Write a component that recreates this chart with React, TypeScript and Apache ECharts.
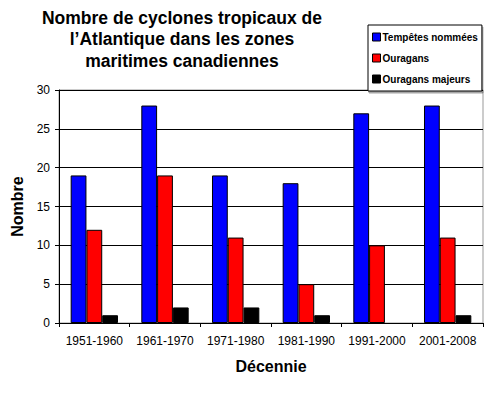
import React, { useEffect, useRef } from "react";
import * as echarts from "echarts";

const categories = ["1951-1960", "1961-1970", "1971-1980", "1981-1990", "1991-2000", "2001-2008"];
const tempetes = [19, 28, 19, 18, 27, 28];
const ouragans = [12, 19, 11, 5, 10, 11];
const majeurs = [1, 2, 2, 1, 0, 1];
const seriesNames = ["Tempêtes nommées", "Ouragans", "Ouragans majeurs"];
const titleLines = ["Nombre de cyclones tropicaux de", "l\u2019Atlantique dans les zones", "maritimes canadiennes"];

export default function App() {
  const ref = useRef<HTMLDivElement>(null);
  useEffect(() => {
    if (!ref.current) return;
    const chart = echarts.init(ref.current, null, { renderer: "svg" });
    const font = "Arial, 'Liberation Sans', sans-serif";
    const barStyle = (color: string) => ({ color, borderColor: "#000", borderWidth: 1, borderRadius: 0 });
    const toData = (arr: number[]) =>
      arr.map((v) => (v === 0 ? { value: v, itemStyle: { borderWidth: 0 } } : v));
    chart.setOption({
      animation: false,
      backgroundColor: "#fff",
      textStyle: { fontFamily: font },
      graphic: [
        {
          type: "text",
          x: 182,
          y: 7,
          style: {
            text: titleLines.join("\n"),
            font: `bold 17.5px ${font}`,
            fill: "#000",
            align: "center",
            lineHeight: 21.5,
          },
        },
      ],
      legend: {
        orient: "vertical",
        left: 368,
        top: 25,
        padding: [7, 4, 7, 4],
        itemWidth: 8,
        itemHeight: 8,
        itemGap: 11,
        icon: "rect",
        borderColor: "#000",
        borderWidth: 1,
        backgroundColor: "#fff",
        shadowColor: "rgba(0,0,0,0.35)",
        shadowOffsetX: 1,
        shadowOffsetY: 2,
        textStyle: { fontFamily: font, fontWeight: "bold", fontSize: 10, color: "#000", padding: [0, 0, 0, -3] },
        data: seriesNames.map((n) => ({ name: n, itemStyle: { borderColor: "#000", borderWidth: 1 } })),
      },
      grid: {
        left: 59,
        right: 14,
        top: 90,
        bottom: 70,
        show: true,
        borderColor: "#999",
        borderWidth: 1,
      },
      xAxis: {
        type: "category",
        data: categories,
        name: "Décennie",
        nameLocation: "middle",
        nameGap: 35,
        nameTextStyle: { fontFamily: font, fontWeight: "bold", fontSize: 16, color: "#000" },
        axisLine: { lineStyle: { color: "#000", width: 1 } },
        axisTick: { show: true, length: 4, lineStyle: { color: "#000" } },
        axisLabel: { fontFamily: font, fontSize: 12, color: "#000", margin: 12, interval: 0 },
      },
      yAxis: {
        type: "value",
        min: 0,
        max: 30,
        interval: 5,
        name: "Nombre",
        nameLocation: "middle",
        nameGap: 31,
        nameTextStyle: { fontFamily: font, fontWeight: "bold", fontSize: 16, color: "#000" },
        axisLine: { show: true, lineStyle: { color: "#000", width: 1 } },
        axisTick: { show: true, length: 4, lineStyle: { color: "#000" } },
        axisLabel: { fontFamily: font, fontSize: 12, color: "#000", margin: 9 },
        splitLine: { show: true, lineStyle: { color: "#000", width: 1 } },
      },
      series: [
        { name: seriesNames[0], type: "bar", data: toData(tempetes), itemStyle: barStyle("#0000FF"), barGap: "0%", barCategoryGap: "33%" },
        { name: seriesNames[1], type: "bar", data: toData(ouragans), itemStyle: barStyle("#FF0000"), barGap: "0%", barCategoryGap: "33%" },
        { name: seriesNames[2], type: "bar", data: toData(majeurs), itemStyle: barStyle("#000000"), barGap: "0%", barCategoryGap: "33%" },
      ],
    });
    return () => chart.dispose();
  }, []);
  return <div ref={ref} style={{ position: "fixed", left: 0, top: 0, width: 497, height: 393 }} />;
}
